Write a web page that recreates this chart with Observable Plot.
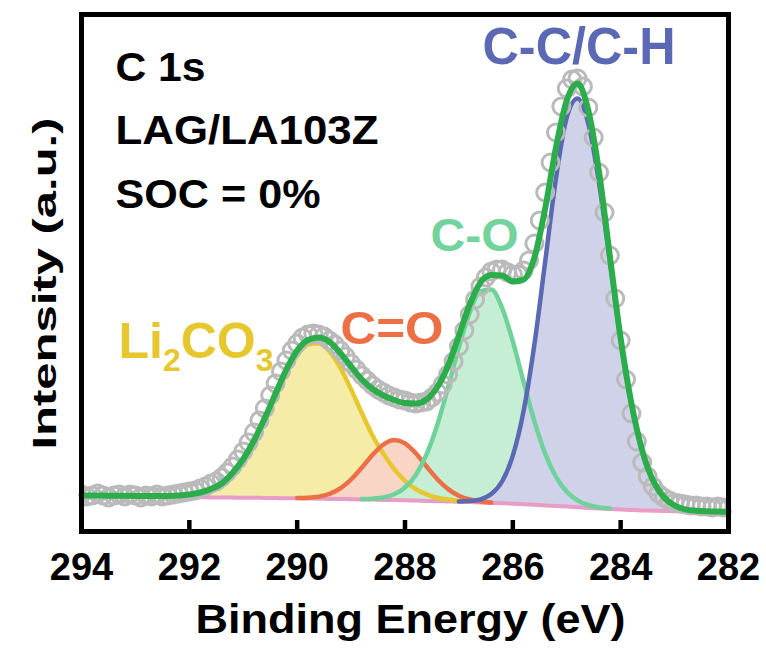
<!DOCTYPE html>
<html>
<head>
<meta charset="utf-8">
<script src="https://cdn.jsdelivr.net/npm/d3@7"></script>
<script src="https://cdn.jsdelivr.net/npm/@observablehq/plot@0.6"></script>
<style>
  html, body { margin: 0; padding: 0; background: #ffffff; }
  #chart { width: 766px; height: 650px; }
</style>
</head>
<body>
<div id="chart"></div>
<script>
// ---- Data (binding energy in eV, intensity in a.u.) ----
const energyFit = [
  294.0, 293.8, 293.6, 293.4, 293.2, 293.0, 292.8, 292.6, 292.4, 292.2,
  292.0, 291.8, 291.6, 291.4, 291.2, 291.0, 290.8, 290.6, 290.4, 290.2,
  290.0, 289.8, 289.6, 289.4, 289.2, 289.0, 288.8, 288.6, 288.4, 288.2,
  288.0, 287.8, 287.6, 287.4, 287.2, 287.0, 286.8, 286.6, 286.4, 286.2,
  286.0, 285.8, 285.6, 285.4, 285.2, 285.0, 284.8, 284.6, 284.4, 284.2,
  284.0, 283.8, 283.6, 283.4, 283.2, 283.0, 282.8, 282.6, 282.4, 282.2,
  282.0
];
const background = [
  34.0, 33.9, 33.9, 33.8, 33.8, 33.7, 33.6, 33.5, 33.4, 33.4,
  33.3, 33.2, 33.1, 33.0, 32.9, 32.8, 32.7, 32.6, 32.4, 32.3,
  32.2, 32.0, 31.8, 31.6, 31.5, 31.3, 31.1, 30.9, 30.6, 30.4,
  30.2, 29.9, 29.6, 29.3, 29.1, 28.8, 28.4, 28.0, 27.6, 27.2,
  26.8, 26.3, 25.7, 25.1, 24.6, 24.0, 23.3, 22.6, 22.0, 21.5,
  21.0, 20.5, 20.1, 19.8, 19.5, 19.3, 19.1, 18.9, 18.8, 18.6,
  18.5
];
const li2co3 = [
  0, 0, 0, 0, 0, 0, 0, 0.3, 0.5, 1.0,
  2.2, 4.5, 8.5, 15.0, 25.1, 39.2, 57.5, 79.4, 102.9, 125.3,
  143.3, 154.0, 155.4, 147.4, 131.3, 109.8, 86.4, 63.8, 46.0, 31.0,
  19.5, 11.5, 6.5, 3.5, 1.8, 0.9, 0.4, 0, 0, 0,
  0, 0, 0, 0, 0, 0, 0, 0, 0, 0,
  0, 0, 0, 0, 0, 0, 0, 0, 0, 0,
  0
];
const cEqO = [
  0, 0, 0, 0, 0, 0, 0, 0, 0, 0,
  0, 0, 0, 0, 0, 0, 0, 0, 0, 0,
  0.3, 0.8, 2.1, 5.1, 10.7, 19.7, 31.8, 44.8, 55.4, 60.0,
  56.9, 47.3, 34.4, 22.0, 12.3, 6.0, 2.6, 1.0, 0.3, 0,
  0, 0, 0, 0, 0, 0, 0, 0, 0, 0,
  0, 0, 0, 0, 0, 0, 0, 0, 0, 0,
  0
];
const cO = [
  0, 0, 0, 0, 0, 0, 0, 0, 0, 0,
  0, 0, 0, 0, 0, 0, 0, 0, 0, 0,
  0, 0, 0, 0, 0, 0, 0.3, 0.9, 2.4, 5.8,
  12.8, 25.7, 46.5, 76.5, 114.2, 154.6, 189.7, 211.3, 213.3, 195.4,
  162.3, 122.2, 83.5, 51.8, 29.1, 14.8, 6.9, 2.9, 1.1, 0.4,
  0, 0, 0, 0, 0, 0, 0, 0, 0, 0,
  0
];
const cC = [
  0, 0, 0, 0, 0, 0, 0, 0, 0, 0,
  0, 0, 0, 0, 0, 0, 0, 0, 0, 0,
  0, 0, 0, 0, 0, 0, 0, 0, 0, 0,
  0, 0, 0, 0, 0, 0.3, 1.0, 3.1, 8.8, 21.8,
  48.0, 93.3, 160.4, 243.8, 327.6, 389.1, 408.8, 384.1, 325.2, 248.1,
  170.6, 105.7, 59.1, 29.7, 13.5, 5.5, 2.0, 0.7, 0.2, 0.1,
  0
];
const envelope = [
  35.0, 35.0, 34.9, 34.8, 34.7, 34.6, 34.5, 34.5, 34.6, 35.0,
  36.0, 38.0, 41.5, 47.0, 57.5, 71.5, 90.0, 112.5, 137.0, 161.0,
  180.0, 190.5, 193.0, 188.5, 177.5, 164.0, 151.0, 141.5, 135.0, 130.5,
  127.5, 127.0, 131.0, 143.5, 165.0, 195.0, 226.0, 248.0, 255.5, 255.0,
  249.0, 251.0, 273.0, 322.0, 383.0, 430.0, 447.0, 420.0, 358.0, 274.0,
  192.0, 127.0, 80.0, 50.0, 33.5, 25.0, 21.2, 19.8, 19.2, 18.9,
  18.7
];
const energyData = [
  294.0, 293.9, 293.8, 293.7, 293.6, 293.5, 293.4, 293.3, 293.2, 293.1,
  293.0, 292.9, 292.8, 292.7, 292.6, 292.5, 292.4, 292.3, 292.2, 292.1,
  292.0, 291.9, 291.8, 291.7, 291.6, 291.5, 291.4, 291.3, 291.2, 291.1,
  291.0, 290.9, 290.8, 290.7, 290.6, 290.5, 290.4, 290.3, 290.2, 290.1,
  290.0, 289.9, 289.8, 289.7, 289.6, 289.5, 289.4, 289.3, 289.2, 289.1,
  289.0, 288.9, 288.8, 288.7, 288.6, 288.5, 288.4, 288.3, 288.2, 288.1,
  288.0, 287.9, 287.8, 287.7, 287.6, 287.5, 287.4, 287.3, 287.2, 287.1,
  287.0, 286.9, 286.8, 286.7, 286.6, 286.5, 286.4, 286.3, 286.2, 286.1,
  286.0, 285.9, 285.8, 285.7, 285.6, 285.5, 285.4, 285.3, 285.2, 285.1,
  285.0, 284.9, 284.8, 284.7, 284.6, 284.5, 284.4, 284.3, 284.2, 284.1,
  284.0, 283.9, 283.8, 283.7, 283.6, 283.5, 283.4, 283.3, 283.2, 283.1,
  283.0, 282.9, 282.8, 282.7, 282.6, 282.5, 282.4, 282.3, 282.2, 282.1,
  282.0
];
const intensity = [
  36, 34, 35, 37, 35, 33, 35, 36, 34, 36,
  35, 33, 35, 34, 36, 34, 35, 36, 37, 38,
  39, 40, 42, 44, 47, 49, 53, 58, 64, 71,
  79, 88, 98, 110, 122, 135, 147, 159, 170, 180,
  187, 193, 196, 197, 196, 194, 190, 186, 180, 174,
  167, 161, 155, 150, 145, 141, 138, 135, 133, 131,
  130, 128, 127, 128, 129, 133, 138, 146, 156, 169,
  184, 200, 216, 231, 244, 253, 259, 261, 261, 258,
  256, 256, 260, 270, 287, 310, 338, 368, 398, 424,
  442, 451, 452, 444, 423, 393, 358, 318, 275, 232,
  190, 151, 117, 89, 68, 54, 44, 37, 33, 30,
  28, 27, 26, 25, 25, 24, 24, 23, 24, 23,
  23
];
const xTicks = [294, 292, 290, 288, 286, 284, 282];
const innerTicks = [292, 290, 288, 286, 284];
const infoLines = ["C 1s", "LAG/LA103Z", "SOC = 0%"];
const peakLabels = ["C-C/C-H", "C-O", "C=O", "Li2CO3"];
const xTitle = "Binding Energy (eV)";
const yTitle = "Intensity (a.u.)";

// ---- Tables built from the arrays ----
const fitRows = energyFit.map((E, i) => ({
  E, bg: background[i], li: li2co3[i], ceo: cEqO[i], co: cO[i], cc: cC[i], fit: envelope[i]
}));
const dataRows = energyData.map((E, i) => ({E, I: intensity[i]}));

const comps = [
  {key: "li",  line: "#e6c82e", fill: "#f5eca8"},
  {key: "ceo", line: "#ec6f45", fill: "#f9d5c6"},
  {key: "co",  line: "#6fd29a", fill: "#c6eed4"},
  {key: "cc",  line: "#5b69b5", fill: "#cfd2e8"}
];

const bold = "bold";
function label(text, dx, dy, fontSize, fill) {
  return Plot.text([text], {
    frameAnchor: "top-left", text: d => d, dx, dy, fontSize, fontWeight: bold,
    fill, textAnchor: "start", lineAnchor: "bottom"
  });
}

const svg = Plot.plot({
  width: 766,
  height: 650,
  marginLeft: 81,
  marginRight: 38,
  marginTop: 14,
  marginBottom: 119,
  x: {domain: [294, 282], axis: null},
  y: {domain: [-1, 516], axis: null},
  style: {fontFamily: "'Liberation Sans', Arial, Helvetica, sans-serif", background: "#ffffff", color: "#000000"},
  marks: [
    ...comps.map(c => Plot.areaY(fitRows, {
      x: "E", y1: "bg", y2: d => d.bg + d[c.key], fill: c.fill, curve: "monotone-x"
    })),
    Plot.lineY(fitRows, {x: "E", y: "bg", stroke: "#e89cc6", strokeWidth: 4, curve: "monotone-x"}),
    ...comps.map(c => Plot.lineY(fitRows.filter(d => d[c.key] >= 0.3), {
      x: "E", y: d => d.bg + d[c.key], stroke: c.line, strokeWidth: 4.5, curve: "monotone-x"
    })),
    Plot.dot(dataRows, {x: "E", y: "I", r: 8.5, stroke: "#bababa", strokeWidth: 3, fill: "none", clip: true}),
    Plot.lineY(fitRows, {x: "E", y: "fit", stroke: "#2bad4b", strokeWidth: 6, curve: "monotone-x"}),
    Plot.frame({stroke: "#000000", strokeWidth: 5}),
    Plot.ruleX(innerTicks, {x: d => d, insetTop: 506, stroke: "#000000", strokeWidth: 4.5}),
    Plot.text(xTicks, {
      x: d => d, text: d => String(d), frameAnchor: "bottom", dy: 22, lineAnchor: "top",
      fontSize: 38, fontWeight: bold, fill: "#000000"
    }),
    Plot.text([xTitle], {
      frameAnchor: "bottom", text: d => d, dx: 5.5, dy: 101, lineAnchor: "bottom",
      fontSize: 40, fontWeight: bold, fill: "#000000"
    }),
    Plot.text([yTitle], {
      frameAnchor: "left", text: d => d, rotate: -90, dx: -26, dy: 10.5, lineAnchor: "bottom",
      textAnchor: "middle", fontSize: 33, fontWeight: bold, fill: "#000000"
    }),
    label(infoLines[0], 34, 66, 40, "#000000"),
    label(infoLines[1], 34, 129, 40, "#000000"),
    label(infoLines[2], 34, 193, 40, "#000000"),
    label(peakLabels[0], 401, 49, 52, "#5b69b5"),
    label(peakLabels[1], 349, 236, 46, "#72d49c"),
    label(peakLabels[2], 259, 329, 47, "#ec6f45"),
    label(peakLabels[3], 37, 343, 50, "#e6c82e")
  ]
});

// text lengths measured on the reference
const textLengths = {
  "C 1s": 90, "LAG/LA103Z": 263, "SOC = 0%": 205,
  "C-C/C-H": 193, "C-O": 88, "C=O": 103,
  "Binding Energy (eV)": 430, "Intensity (a.u.)": 332
};
d3.select(svg).selectAll("text").each(function () {
  const t = this.textContent;
  if (textLengths[t]) {
    this.setAttribute("textLength", textLengths[t]);
    this.setAttribute("lengthAdjust", "spacingAndGlyphs");
  }
  if (t === "Li2CO3") {
    const s = d3.select(this);
    s.text(null);
    s.append("tspan").text("Li");
    s.append("tspan").attr("font-size", 32).attr("dy", 13).text("2");
    s.append("tspan").attr("dy", -13).text("CO");
    s.append("tspan").attr("font-size", 32).attr("dy", 13).text("3");
  }
});

document.getElementById("chart").appendChild(svg);
</script>
</body>
</html>
